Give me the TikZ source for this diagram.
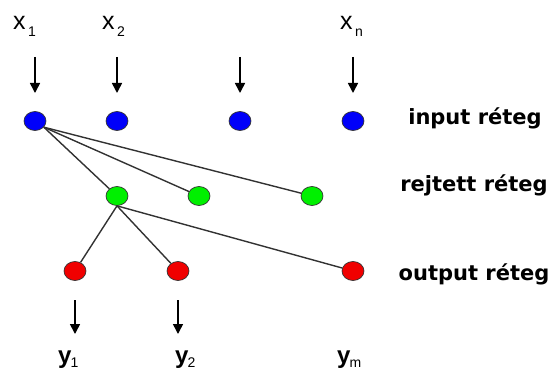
\documentclass[tikz,border=0pt]{standalone}
\usepackage{fontspec}
\setmainfont{Liberation Sans}
\newfontfamily\labelfont{DejaVu Sans}
\usetikzlibrary{arrows.meta,shapes.geometric}
\definecolor{inblue}{RGB}{0,0,250}
\definecolor{hidgreen}{RGB}{0,240,0}
\definecolor{outred}{RGB}{240,0,0}
\definecolor{linkgray}{RGB}{50,50,50}
\newcommand{\subx}[1]{\hspace{2.5pt}\raisebox{-7pt}{\fontsize{14}{14}\selectfont\mdseries #1}}
\tikzset{
  neuron/.style={ellipse, draw=black!80, line width=0.7pt, minimum width=22pt, minimum height=19pt, inner sep=0pt},
  innode/.style={neuron, fill=inblue},
  hidnode/.style={neuron, fill=hidgreen},
  outnode/.style={neuron, fill=outred},
  link/.style={draw=linkgray, line width=1.4pt},
  flow/.style={draw=black, line width=1.6pt, -{Triangle[length=10pt,width=10pt]}},
  varlab/.style={font=\fontsize{25}{26}\selectfont, anchor=base west, inner sep=0pt},
  outlab/.style={font=\fontsize{24}{26}\selectfont\bfseries, anchor=base west, inner sep=0pt},
  layerlab/.style={font=\labelfont\bfseries\fontsize{21}{24}\selectfont, anchor=base, inner sep=0pt}
}
\begin{document}
\begin{tikzpicture}[x=1pt,y=-1pt]
\useasboundingbox (0,0) rectangle (554,374);
% input labels
\node[varlab] (x1) at (13,30) {x\subx{1}};
\node[varlab] (x2) at (102,30) {x\subx{2}};
\node[varlab] (xn) at (340,30) {x\subx{n}};
% input arrows
\foreach \i/\x in {1/35,2/117,3/240,4/353}{
  \coordinate (as\i) at (\x,57);
  \coordinate (ae\i) at (\x,93);
  \draw[flow] (as\i) -- (ae\i);
}
% input layer
\node[innode] (b1) at (35,121) {};
\node[innode] (b2) at (117,121) {};
\node[innode] (b3) at (240,121) {};
\node[innode] (b4) at (353,121) {};
% hidden layer
\node[hidnode] (h1) at (117,196) {};
\node[hidnode] (h2) at (199,196) {};
\node[hidnode] (h3) at (312,196) {};
% output layer
\node[outnode] (r1) at (75,271) {};
\node[outnode] (r2) at (178,271) {};
\node[outnode] (r3) at (353,271) {};
% links
\coordinate (bo) at (b1.-35);
\draw[link] (bo) -- (h1);
\draw[link] (bo) -- (h2);
\draw[link] (bo) -- (h3);
\coordinate (ho) at (h1.south);
\draw[link] (ho) -- (r1);
\draw[link] (ho) -- (r2);
\draw[link] (ho) -- (r3);
% output arrows
\foreach \i/\x in {1/75,2/178}{
  \coordinate (os\i) at (\x,300);
  \coordinate (oe\i) at (\x,334);
  \draw[flow] (os\i) -- (oe\i);
}
% output labels
\node[outlab] (y1) at (58,363) {y\hspace{-1pt}\raisebox{-4pt}{\fontsize{14}{14}\selectfont\mdseries 1}};
\node[outlab] (y2) at (175,363) {y\hspace{-1pt}\raisebox{-4pt}{\fontsize{14}{14}\selectfont\mdseries 2}};
\node[outlab] (ym) at (337,363) {y\hspace{-1pt}\raisebox{-4pt}{\fontsize{14}{14}\selectfont\mdseries m}};
% layer labels
\node[layerlab] (li) at (475,125) {input réteg};
\node[layerlab] (lh) at (474,192) {rejtett réteg};
\node[layerlab] (lo) at (474,280) {output réteg};
\end{tikzpicture}
\end{document}
